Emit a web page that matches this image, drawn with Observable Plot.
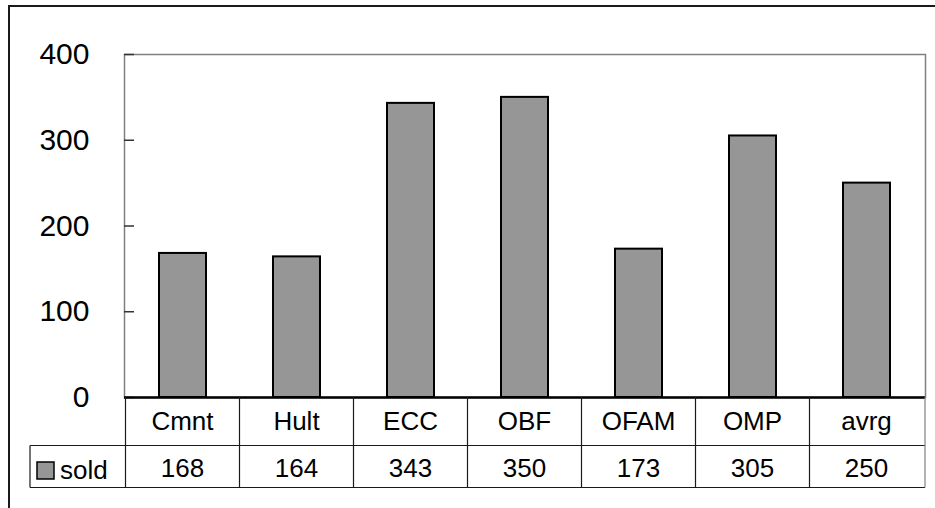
<!DOCTYPE html>
<html>
<head>
<meta charset="utf-8">
<script src="https://cdn.jsdelivr.net/npm/d3@7"></script>
<script src="https://cdn.jsdelivr.net/npm/@observablehq/plot@0.6"></script>
<style>
  html, body { margin: 0; padding: 0; background: #fff; }
  #wrap { position: relative; width: 935px; height: 508px; overflow: hidden; }
  #border { position: absolute; left: 8px; top: 5px; width: 1000px; height: 1000px;
            border-left: 2px solid #1a1a1a; border-top: 2px solid #1a1a1a; box-sizing: border-box; }
  #chart { position: absolute; left: 0; top: 0; }
  svg { font-family: "Liberation Sans", Arial, sans-serif; }
</style>
</head>
<body>
<div id="wrap"><div id="border"></div><div id="chart"></div></div>
<script>
const categories = ["Cmnt", "Hult", "ECC", "OBF", "OFAM", "OMP", "avrg"];
const sold = [168, 164, 343, 350, 173, 305, 250];
const seriesName = "sold";
const yTicks = [0, 100, 200, 300, 400];

const data = categories.map((c, i) => ({category: c, sold: sold[i]}));

// Data table drawn below the plot using the x band scale
function dataTable(index, scales, values, dims) {
  const xs = scales.scales.x;
  const step = xs.step;
  const bw = xs.bandwidth;
  const center = c => scales.x(c) + bw / 2;
  const right = dims.width - dims.marginRight;
  const top = dims.height - dims.marginBottom;
  const row1 = top + 48.5;
  const row2 = row1 + 42;
  const keyLeft = 30;
  const g = d3.create("svg:g").attr("text-anchor", "middle");
  const lineColor = "#1a1a1a";
  const hline = (x1, x2, y) => g.append("line").attr("x1", x1).attr("x2", x2).attr("y1", y).attr("y2", y)
    .attr("stroke", lineColor).attr("stroke-width", 1.2);
  const vline = (xv, y1, y2, col = lineColor) => g.append("line").attr("x1", xv).attr("x2", xv).attr("y1", y1).attr("y2", y2)
    .attr("stroke", col).attr("stroke-width", 1.2);
  hline(keyLeft, right, row1);
  hline(keyLeft, right, row2);
  vline(keyLeft, row1, row2);
  categories.forEach(c => vline(center(c) - step / 2, top, row2));
  vline(right, top, row2, "#808080");
  categories.forEach((c, i) => {
    const cx = center(c);
    g.append("text").attr("x", cx).attr("y", top + 33).attr("text-anchor", "middle")
      .attr("font-size", 26).attr("fill", "#000").text(c);
    g.append("text").attr("x", cx).attr("y", row1 + 31).attr("text-anchor", "middle")
      .attr("font-size", 26).attr("fill", "#000").text(sold[i]);
  });
  // legend key
  g.append("rect").attr("x", 37).attr("y", row1 + 16.5).attr("width", 17).attr("height", 17)
    .attr("fill", "#969696").attr("stroke", "#000").attr("stroke-width", 1.5);
  g.append("text").attr("x", 60).attr("y", row1 + 33).attr("text-anchor", "start")
    .attr("font-size", 26).attr("fill", "#000").text(seriesName);
  return g.node();
}

const chart = Plot.plot({
  width: 935,
  height: 508,
  marginLeft: 124,
  marginRight: 10,
  marginTop: 54,
  marginBottom: 111,
  style: {fontFamily: "Liberation Sans, Arial, sans-serif", background: "transparent"},
  x: {domain: categories, paddingInner: 0.59, paddingOuter: 0.295, axis: null},
  y: {domain: [0, 400], ticks: yTicks},
  marks: [
    Plot.frame({stroke: "#808080", strokeWidth: 1.5}),
    Plot.ruleY(yTicks, {y: d => d, insetRight: 791, stroke: "#333", strokeWidth: 1.5}),
    Plot.axisY({ticks: yTicks, tickSize: 0, tickPadding: 35, fontSize: 30, fill: "#000", label: null, line: true, stroke: "#333", strokeWidth: 1.5}),
    Plot.barY(data, {x: "category", y: "sold", fill: "#969696", stroke: "#000", strokeWidth: 2}),
    Plot.ruleY([0], {stroke: "#000", strokeWidth: 2.5}),
    dataTable
  ]
});
document.getElementById("chart").appendChild(chart);
</script>
</body>
</html>
